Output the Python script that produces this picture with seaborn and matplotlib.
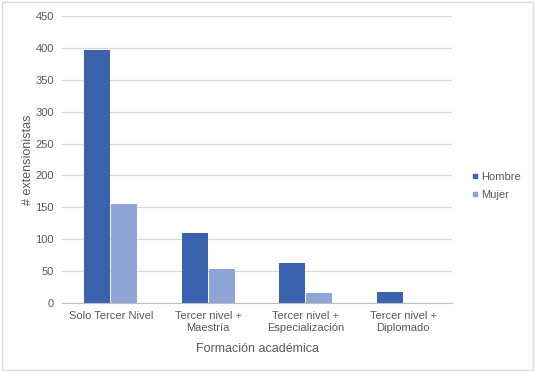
import pandas as pd
import matplotlib
matplotlib.use("Agg")
import matplotlib.pyplot as plt
import seaborn as sns

# data
categorias = ["Solo Tercer Nivel", "Tercer nivel +\nMaestría",
              "Tercer nivel +\nEspecialización", "Tercer nivel +\nDiplomado"]
hombre = [397, 110, 63, 18]
mujer = [156, 54, 15, 0]
sexos = ["Hombre", "Mujer"]
colores = ["#3A62AE", "#8FA5D6"]

df = pd.DataFrame({
    "Formacion": categorias * 2,
    "Sexo": ["Hombre"] * 4 + ["Mujer"] * 4,
    "n": hombre + mujer,
})

sns.set_style("white")
plt.rcParams["font.family"] = ["Liberation Sans", "DejaVu Sans"]

fig = plt.figure(figsize=(5.35, 3.71), dpi=100)
ax = fig.add_axes([62 / 535, 1 - 303 / 371, (452 - 62) / 535, (303 - 16) / 371])

sns.barplot(data=df, x="Formacion", y="n", hue="Sexo", hue_order=sexos,
            palette=colores, width=0.56, gap=0.05, ax=ax, saturation=1,
            linewidth=0, legend=False)

ax.set_ylim(0, 450)
ax.set_yticks(range(0, 451, 50))
ax.yaxis.grid(True, color="#D9D9D9", linewidth=0.9)
ax.set_axisbelow(True)
for s in ["top", "right", "left"]:
    ax.spines[s].set_visible(False)
ax.spines["bottom"].set_color("#BFBFBF")
ax.tick_params(axis="both", length=0, labelsize=8, colors="#595959", pad=6)
ax.set_xlabel("Formación académica", fontsize=9, color="#595959", labelpad=7)
ax.set_ylabel("# extensionistas", fontsize=9, color="#595959", labelpad=1)

# legend at right
handles = [plt.Line2D([], [], marker="s", linestyle="", color=c, markersize=3.5) for c in colores]
fig.legend(handles, sexos, loc="upper left", bbox_to_anchor=(459 / 535, 1 - 162 / 371),
           frameon=False, fontsize=8, handletextpad=0.1, labelcolor="#595959",
           labelspacing=0.7, handlelength=1.0)

# light border around the figure
fig.patches.append(plt.Rectangle((0.004, 0.004), 0.992, 0.99, transform=fig.transFigure,
                                 fill=False, edgecolor="#D9D9D9", linewidth=1))

fig.savefig("out.png", dpi=100)
